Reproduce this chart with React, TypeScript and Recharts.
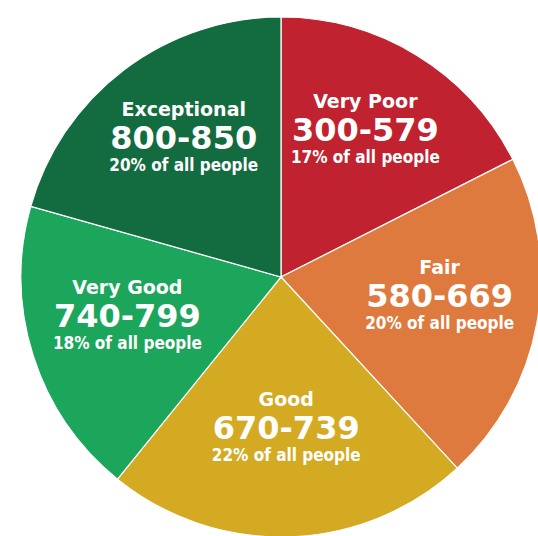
import React from "react";
import { PieChart, Pie, Cell } from "recharts";

const categories = ["Very Poor", "Fair", "Good", "Very Good", "Exceptional"];
const ranges = ["300-579", "580-669", "670-739", "740-799", "800-850"];
const shares = [17, 20, 22, 18, 20];
const colors = ["#C0222F", "#DF7A3E", "#D4AA22", "#1BA65C", "#136B40"];

const data = categories.map((name, i) => ({
  name,
  range: ranges[i],
  value: shares[i],
}));

const RAD = Math.PI / 180;

const renderLabel = (props: any) => {
  const { cx, cy, midAngle, outerRadius, index } = props;
  const r = outerRadius * 0.62;
  const x = cx + r * Math.cos(-midAngle * RAD);
  const y = cy + r * Math.sin(-midAngle * RAD) - 10;
  const d = data[index];
  const base = y + 11;
  return (
    <g>
      <text
        x={x}
        y={base - 33}
        textAnchor="middle"
        fill="#fff"
        style={{ fontFamily: "'DejaVu Sans', sans-serif", fontWeight: 700, fontSize: 19 }}
      >
        {d.name}
      </text>
      <text
        x={x}
        y={base}
        textAnchor="middle"
        fill="#fff"
        style={{ fontFamily: "'DejaVu Sans', sans-serif", fontWeight: 700, fontSize: 32 }}
      >
        {d.range}
      </text>
      <text
        x={x}
        y={base + 22}
        textAnchor="middle"
        fill="#fff"
        style={{
          fontFamily: "'DejaVu Sans Condensed', 'DejaVu Sans', sans-serif",
          fontStretch: "condensed",
          fontWeight: 700,
          fontSize: 17,
        }}
      >
        {`${d.value}% of all people`}
      </text>
    </g>
  );
};

export default function App() {
  return (
    <div style={{ position: "absolute", left: 0, top: 0, width: 538, height: 536, background: "#fff" }}>
      <PieChart width={538} height={536}>
        <Pie
          data={data}
          dataKey="value"
          nameKey="name"
          cx={276}
          cy={272}
          outerRadius={260}
          startAngle={90}
          endAngle={-270}
          stroke="#ffffff"
          strokeWidth={1.2}
          label={renderLabel}
          labelLine={false}
          isAnimationActive={false}
        >
          {data.map((d, i) => (
            <Cell key={d.name} fill={colors[i]} />
          ))}
        </Pie>
      </PieChart>
    </div>
  );
}
